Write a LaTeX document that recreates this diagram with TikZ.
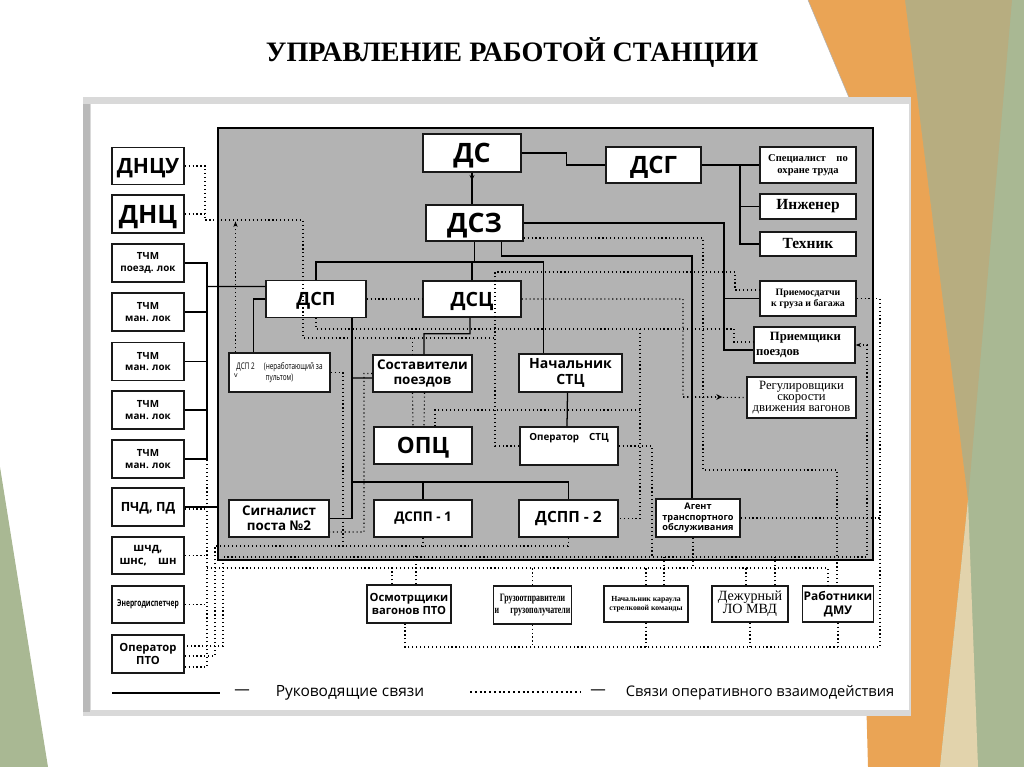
\documentclass[tikz,border=0pt]{standalone}
\usepackage{fontspec}
\setmainfont{Liberation Serif}
\newfontfamily\osans{Open Sans}
\newfontfamily\nsans[FakeStretch=0.7]{Open Sans}
\newfontfamily\nserif[FakeStretch=0.7]{Liberation Serif}
\usetikzlibrary{arrows.meta}
\newdimen\px \px=0.025cm
\newcommand\fs[1]{\fontsize{#1}{\fpeval{1.15*#1}}\selectfont}
\definecolor{boxgray}{HTML}{B3B3B3}
\definecolor{decgreen}{HTML}{A9B893}
\definecolor{decolive}{HTML}{B7AD80}
\definecolor{decorange}{HTML}{EAA455}
\definecolor{decbeige}{HTML}{E2D3AC}
\tikzset{
  box/.style={draw=black!90, line width=0.9pt, fill=white, inner sep=1pt, align=center},
  wh/.style 2 args={minimum width=#1\px, minimum height=#2\px},
  ss/.style={font=\osans\bfseries\fs{#1}},
  sr/.style={font=\bfseries\fs{#1}},
  flat/.style={text depth=0pt},
  lead/.style={line width=0.9pt},
  opl/.style={dotted, line width=0.8pt},
}

\begin{document}
\begin{tikzpicture}[x=0.025cm,y=-0.025cm]
\useasboundingbox (0,0) rectangle (1024,767);
\fill[white] (0,0) rectangle (1024,767);
\fill[decgreen] (880,0) -- (1024,0) -- (1024,767) -- (880,767) -- cycle;
\fill[decolive] (905,0) -- (1012,0) -- (968,500) -- cycle;
\fill[decorange] (808,0) -- (905,0) -- (968,500) -- (940,767) -- (868,767) -- (850,100) -- cycle;
\fill[decbeige] (940,767) -- (968,500) -- (978,767) -- cycle;
\draw[gray!60] (808,0) -- (850,100);
\fill[decgreen] (0,467) -- (48,767) -- (0,767) -- cycle;

\fill[gray!30] (83,97) rectangle (911,716);
\fill[gray!55] (83,104) rectangle (90,712);
\fill[white] (91,104) rectangle (909,710);
\node[sr=20] (title) at (512,53) {УПРАВЛЕНИЕ РАБОТОЙ СТАНЦИИ};
\draw[line width=2pt, fill=boxgray] (218,128) rectangle (873,560);

\node[box, wh={72}{37}, ss=15, flat] (dncu) at (148,166) {ДНЦУ};
\node[box, wh={72}{38}, ss=18, flat] (dnc) at (148,214) {ДНЦ};
\node[box, wh={72}{38}, ss=7] (tch1) at (148,263) {ТЧМ\\поезд. лок};
\node[box, wh={72}{38}, ss=7] (tch2) at (148,312) {ТЧМ\\ман. лок};
\node[box, wh={72}{38}, ss=7] (tch3) at (148,361.5) {ТЧМ\\ман. лок};
\node[box, wh={72}{38}, ss=7] (tch4) at (148,410) {ТЧМ\\ман. лок};
\node[box, wh={72}{38}, ss=7] (tch5) at (148,459) {ТЧМ\\ман. лок};
\node[box, wh={72}{38}, ss=9, flat] (pchd) at (148,507) {ПЧД, ПД};
\node[box, wh={72}{37}, ss=8] (shch) at (148,555.5) {шчд,\\шнс,\quad шн};
\node[box, wh={72}{37}, font=\nsans\bfseries\fs{6.8}] (energ) at (148,604.5) {Энергодиспетчер};
\node[box, wh={72}{38}, ss=8] (opto) at (148,654) {Оператор\\ПТО};

\node[box, wh={98}{38}, ss=19, flat] (ds) at (472,153) {ДС};
\node[box, wh={95}{36}, ss=17, flat] (dsg) at (653.5,165) {ДСГ};
\node[box, wh={96}{36}, sr=7.5] (spec) at (808,165) {Специалист\quad по\\охране труда};
\node[box, wh={96}{25}, sr=11] (ing) at (808,206.5) {Инженер};
\node[box, wh={96}{24}, sr=11] (tech) at (808,244) {Техник};
\node[box, wh={97}{36}, ss=19, flat] (dsz) at (474.5,223) {ДСЗ};
\node[box, wh={100}{37}, ss=13, flat] (dsp) at (316,299) {ДСП};
\node[box, wh={98}{36}, ss=14, flat] (dsc) at (472,299) {ДСЦ};
\node[box, wh={96}{35}, sr=7] (prs) at (808,298.5) {Приемосдатчи\\к груза и багажа};
\node[box, wh={101}{36}, sr=9, align=left, text width=97\px] (prm) at (804.5,345) {\hspace*{1.1em}Приемщики\\поездов};
\node[box, wh={103}{38}, ss=10] (nstc) at (570.5,373) {Начальник\\СТЦ};
\node[box, wh={109}{41}, font=\fontsize{9}{8}\selectfont] (reg) at (801.5,397.5) {Регулировщики\\скорости\\движения вагонов};
\node[box, wh={101}{39}, font=\nsans\fs{6.5}] (dsp2) at (279.5,372.5) {ДСП 2\quad(неработающий за\\пультом)};
\node[font=\osans\fs{5}] (dspv) at (236,376) {v};
\node[box, wh={99}{37}, ss=9.5] (sost) at (422.5,373.5) {Составители\\поездов};
\node[box, wh={98}{37}, ss=16, flat] (opc) at (423,445.5) {ОПЦ};
\node[box, wh={98}{38}, ss=7] (ostc) at (569,446) {Оператор\quad СТЦ\\[2pt]\strut};
\node[box, wh={100}{37}, ss=9.5] (sig) at (279,518.5) {Сигналист\\поста №2};
\node[box, wh={98}{37}, ss=9.5] (dspp1) at (423,518.5) {ДСПП - 1};
\node[box, wh={99}{37}, ss=11] (dspp2) at (568.5,518.5) {ДСПП - 2};
\node[box, wh={84}{38}, ss=6.5] (agent) at (698,518) {Агент\\транспортного\\обслуживания};

\node[box, wh={84}{38}, ss=8] (osm) at (409,604) {Осмотрщики\\вагонов ПТО};
\node[box, wh={73}{38}, font=\nserif\bfseries\fs{8}] (gruz) at (532.5,605) {Грузоотправители\\и\quad грузополучатели};
\node[box, wh={84}{36}, sr=5.5] (nk) at (646,604) {Начальник караула\\стрелковой команды};
\node[box, wh={76}{36}, font=\fontsize{10}{9}\selectfont] (dej) at (750,604) {Дежурный\\ЛО МВД};
\node[box, wh={64}{36}, ss=8.5] (dmu) at (838,604) {Работники\\ДМУ};

\draw[lead] (ds.east) -- ++(45,0) |- (dsg.west);
\draw[lead] (ds.south) -- (ds.south |- dsz.north);
\draw[lead,-{Stealth[length=4pt,width=3.5pt]}] (ds.south) -- ++(0,8);
\coordinate (gbus) at (740,165);
\draw[lead] (dsg.east) -- (spec.west);
\draw[lead] (gbus) |- (ing.west);
\draw[lead] (gbus) |- (tech.west);
\draw[lead] (dsz.east) -| (724,350) -- ([yshift=-5\px]prm.west);
\draw[lead] (724,298.5) -- (prs.west);
\draw[lead] ([xshift=27\px]dsz.south) |- (692,256) -- ([xshift=-6\px]agent.north);
\coordinate (zbus) at (474.5,262);
\draw[lead] (dsz.south) -- (zbus);
\draw[lead] (dsp.north) |- (zbus) -| ([xshift=-27\px]nstc.north);
\draw[lead] (dsc.north) -- (dsc.north |- zbus);
\coordinate (tb1) at (207,263);
\coordinate (tb5) at (207,459);
\draw[lead] (tch1.east) -- (tb1) -- (tb5) -- (tch5.east);
\draw[lead] (tch2.east) -- (tch2.east -| tb1);
\draw[lead] (tch3.east) -- (tch3.east -| tb1);
\draw[lead] (tch4.east) -- (tch4.east -| tb1);
\draw[lead] (207,286.5) -- ([yshift=12.5\px]dsp.west);
\draw[lead] (dsp.west) -| ([xshift=-26\px]dsp2.north);
\draw[lead] ([xshift=36\px]dsp.south) |- (sig.east);
\draw[lead] (352,378) -- ([yshift=-4.5\px]sost.west);
\draw[lead] (352,482) -| (dspp2.north);
\draw[lead] (dspp1.north) -- ++(0,-18);
\draw[lead] (pchd.east) -- ++(34,0);
\draw[lead] ([xshift=-2\px]dsc.south) |- ++(-46,16) -- ([xshift=1.5\px]sost.north);
\draw[lead] ([xshift=-3\px]nstc.south) -- ([xshift=-2\px]ostc.north);

\draw[opl] (dncu.east) -| (205,220) -| (303,338) -- (495,338);
\draw[opl] (dnc.east) -- ++(21,0);
\draw[opl] (412.5,338) -- ([xshift=-10\px]sost.north);
\draw[opl,-{Stealth[length=4pt,width=3pt]}] ([xshift=-44\px]dsp2.north) -- ++(0,-131);
\draw[opl] (dsp2.east) -| (343,546);
\draw[opl] (sost.west) -| (364,532) -- ([yshift=-13.5\px]sig.east);
\draw[opl] ([xshift=-10\px]sost.south) -- ([xshift=-10\px]opc.north);
\draw[opl] ([xshift=2\px]sost.south) -- ([xshift=1\px]opc.north);
\draw[opl] (dsp.east) -- (dsc.west);
\draw[opl] (dsc.east) -| (683,397) -- (reg.west);
\draw[opl,-{Stealth[length=4pt,width=4pt]}] (683,397) -- (722,397);
\draw[opl] (ostc.west) -| (495,272) -| (735,290) -- ([yshift=8.5\px]prs.west);
\draw[opl] (dsp.south) |- (734,329) |- ([yshift=3\px]prm.west);
\draw[opl] (640,329) |- (dspp2.east);
\draw[opl] (640,410) -| ([xshift=12\px]opc.north);
\draw[opl] ([yshift=-15\px]dsz.east) -| (703,470) -| ([xshift=-1\px]dmu.north);
\draw[opl] (ostc.east) -| (652,557);
\draw[opl] (agent.east) -- (880,518);
\draw[opl] (prs.east) -| (880,647) -| ([xshift=-4\px]osm.south);
\draw[opl] (gruz.south) -- ++(0,23);
\draw[opl] (nk.south) -- ++(0,25);
\draw[opl] (dej.south) -- ++(0,25);
\draw[opl] (dmu.south) -- ++(0,25);
\draw[opl,{Stealth[length=4pt,width=3pt]}-] (prm.east) -| (867,557) -| (223,646) -- ([yshift=8\px]opto.east);
\draw[opl] ([yshift=-2\px]opto.east) -| (215,546) -- (567,546);
\draw[opl] (dspp1.south) -- ++(0,9);
\draw[opl] (dspp2.south) -- ++(0,9);
\draw[opl] ([yshift=-13\px]opto.east) -| (207,457);
\draw[opl] ([yshift=-2\px]pchd.east) -- ++(23,0);
\draw[opl] (shch.east) -- ++(23,0);
\draw[opl] (energ.east) -- ++(23,0);
\draw[opl] (207,568) -| ([xshift=-10\px]dmu.north);
\draw[opl] ([xshift=-17\px]osm.north) -- ++(0,-17);
\draw[opl] ([xshift=7\px]osm.north) -- ++(0,-28);
\draw[opl] (gruz.north) -- ++(0,-18);
\draw[opl] (nk.north) -- ++(0,-18);
\draw[opl] ([xshift=18\px]nk.north) -- ++(0,-29);
\draw[opl] ([xshift=-4\px]dej.north) -- ++(0,-18);
\draw[opl] ([xshift=25\px]dej.north) -- ++(0,-29);
\draw[opl] ([xshift=-5\px]agent.south) -- ++(0,31);

\draw[line width=2pt] (112,693) -- (220,693);
\node[font=\osans\fs{11}] (dashA) at (242,692) {—};
\node[font=\osans\fs{11}] (legA) at (350,693) {Руководящие связи};
\draw[dotted, line width=1.4pt] (470,692) -- (580,692);
\node[font=\osans\fs{11}] (dashB) at (598,692) {—};
\node[font=\osans\fs{10.4}] (legB) at (760,693) {Связи оперативного взаимодействия};
\end{tikzpicture}
\end{document}
